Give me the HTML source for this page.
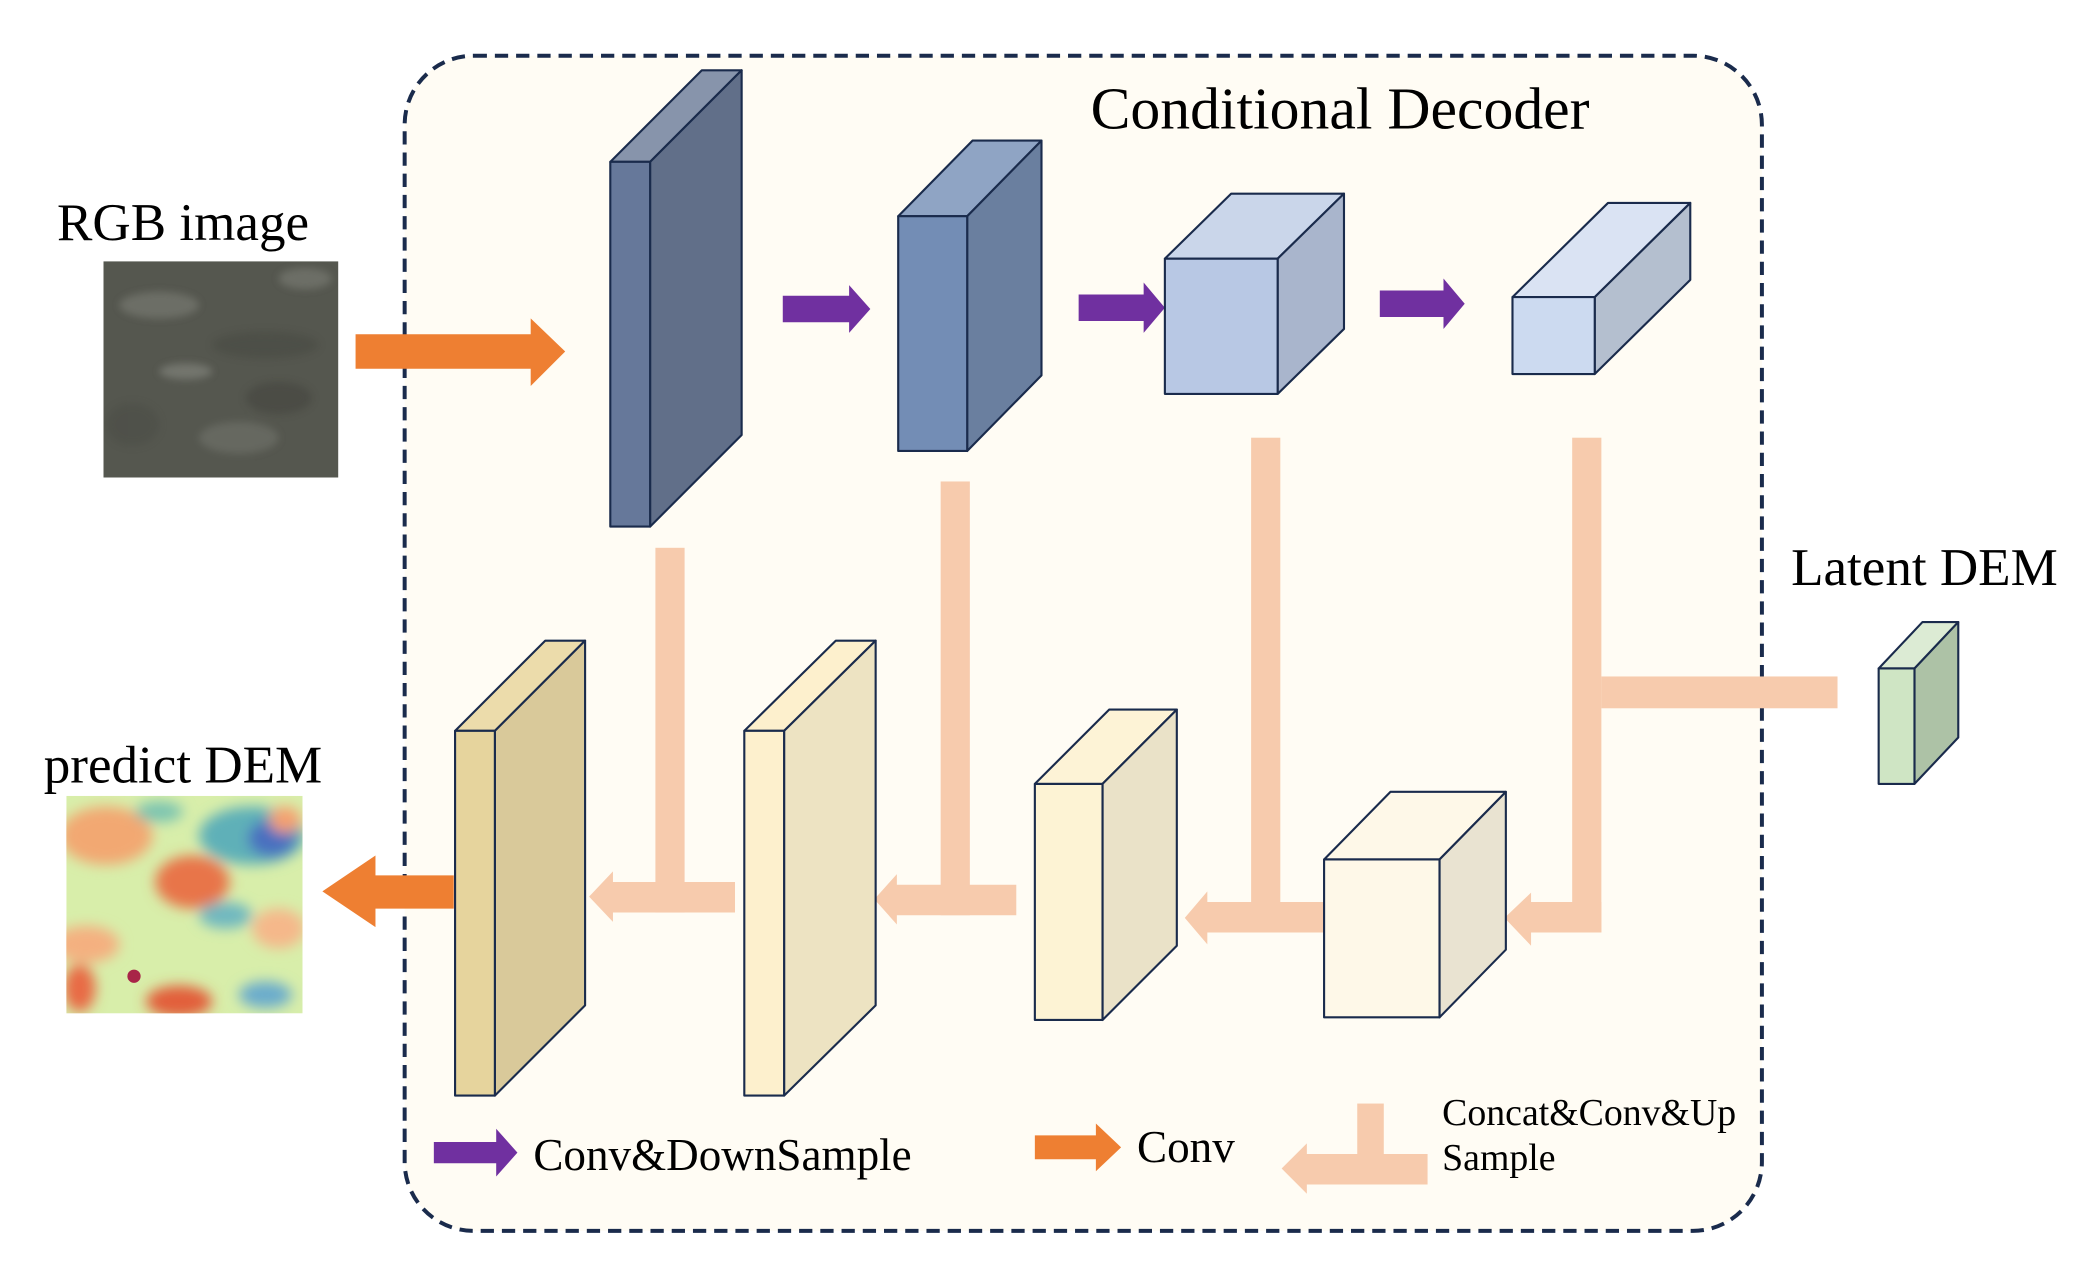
<!DOCTYPE html>
<html><head><meta charset="utf-8"><style>
html,body{margin:0;padding:0;background:#fff;width:2079px;height:1272px;overflow:hidden}
svg{display:block}
text{font-family:"Liberation Serif",serif;fill:#000}
</style></head><body>
<svg width="2079" height="1272" viewBox="0 0 1567 959" preserveAspectRatio="none" xmlns="http://www.w3.org/2000/svg">
<defs>
<filter id="bl" x="-20%" y="-20%" width="140%" height="140%"><feGaussianBlur stdDeviation="5"/></filter>
<filter id="bl2"><feGaussianBlur stdDeviation="3"/></filter>
<clipPath id="c1"><rect x="50" y="600" width="178" height="164"/></clipPath>
<clipPath id="c2"><rect x="78" y="197" width="177" height="163"/></clipPath>
</defs>
<rect width="1567" height="959" fill="#fff"/>
<rect x="305" y="42" width="1023" height="886" rx="52" fill="#fffcf4" stroke="#1a2b4c" stroke-width="3" stroke-dasharray="10,6"/>
<text x="822" y="97" font-size="45">Conditional Decoder</text>
<text x="43" y="181" font-size="40">RGB image</text>
<text x="1350" y="441" font-size="40">Latent DEM</text>
<text x="33" y="590" font-size="40">predict DEM</text>

<!-- RGB image -->
<g clip-path="url(#c2)">
<rect x="78" y="197" width="177" height="163" fill="#55574f"/>
<g filter="url(#bl2)" opacity="0.45">
<ellipse cx="120" cy="230" rx="30" ry="10" fill="#8a8c84"/>
<ellipse cx="200" cy="260" rx="40" ry="10" fill="#45473f"/>
<ellipse cx="140" cy="280" rx="20" ry="6" fill="#9a9c94"/>
<ellipse cx="180" cy="330" rx="30" ry="12" fill="#7c7e76"/>
<ellipse cx="100" cy="320" rx="20" ry="16" fill="#4a4c45"/>
<ellipse cx="230" cy="210" rx="20" ry="8" fill="#8a8c84"/>
<ellipse cx="210" cy="300" rx="25" ry="12" fill="#3f413b"/>
</g>
</g>

<!-- predict DEM -->
<g clip-path="url(#c1)">
<rect x="50" y="600" width="178" height="164" fill="#d8eeaa"/>
<g filter="url(#bl)">
<ellipse cx="80" cy="630" rx="35" ry="22" fill="#f2a872"/>
<ellipse cx="190" cy="630" rx="40" ry="22" fill="#5fb0b8"/>
<ellipse cx="205" cy="632" rx="18" ry="14" fill="#4a6fc0"/>
<ellipse cx="145" cy="665" rx="28" ry="20" fill="#e8744a"/>
<ellipse cx="120" cy="612" rx="18" ry="8" fill="#7bc4b0"/>
<ellipse cx="65" cy="712" rx="25" ry="14" fill="#f4b080"/>
<ellipse cx="135" cy="755" rx="25" ry="12" fill="#e25e3a"/>
<ellipse cx="210" cy="700" rx="20" ry="15" fill="#f5b88a"/>
<ellipse cx="170" cy="690" rx="20" ry="10" fill="#6fb8c0"/>
<ellipse cx="60" cy="745" rx="12" ry="18" fill="#e86a45"/>
<ellipse cx="200" cy="750" rx="20" ry="10" fill="#6aaccc"/>
<ellipse cx="215" cy="618" rx="12" ry="10" fill="#f4a070"/>
</g>
<circle cx="101" cy="736" r="5" fill="#a82548"/>
</g>

<!-- orange arrows -->
<polygon points="268,252 400,252 400,240 426,265 400,291 400,278 268,278" fill="#ee7f32"/>
<polygon points="342,660 283,660 283,645 243,672 283,699 283,685 342,685" fill="#ee7f32"/>

<!-- purple arrows -->
<polygon points="590,223 640,223 640,215 656,233 640,251 640,243 590,243" fill="#7030a0"/>
<polygon points="813,222 862,222 862,213 878,232 862,251 862,242 813,242" fill="#7030a0"/>
<polygon points="1040,219 1088,219 1088,210 1104,229 1088,248 1088,239 1040,239" fill="#7030a0"/>

<!-- peach connectors -->
<g fill="#f7cbad">
<rect x="1185" y="330" width="22" height="373"/>
<rect x="1207" y="510" width="178" height="24"/>
<polygon points="1207,680 1154,680 1154,673 1134,692 1154,713 1154,703 1207,703"/>
<rect x="943" y="330" width="22" height="373"/>
<polygon points="998,680 910,680 910,672 893,692 910,712 910,703 998,703"/>
<rect x="709" y="363" width="22" height="327"/>
<polygon points="766,667 676,667 676,659 659,678 676,697 676,690 766,690"/>
<rect x="494" y="413" width="22" height="275"/>
<polygon points="554,665 462,665 462,657 444,676 462,695 462,688 554,688"/>
<rect x="1023" y="832" width="20" height="53"/>
<polygon points="1076,870 985,870 985,862 966,881 985,900 985,893 1076,893"/>
</g>

<g stroke="#1a2b4c" stroke-width="1.6" stroke-linejoin="round">
<polygon points="460,122 529,53 559,53 490,122" fill="#8794ab"/>
<polygon points="490,122 559,53 559,328 490,397" fill="#616f89"/>
<rect x="460" y="122" width="30" height="275" fill="#66789a"/>

<polygon points="677,163 733,106 785,106 729,163" fill="#8fa4c4"/>
<polygon points="729,163 785,106 785,283 729,340" fill="#6a7f9f"/>
<rect x="677" y="163" width="52" height="177" fill="#738db5"/>

<polygon points="878,195 928,146 1013,146 963,195" fill="#cad6ea"/>
<polygon points="963,195 1013,146 1013,248 963,297" fill="#a9b5cc"/>
<rect x="878" y="195" width="85" height="102" fill="#b8c8e4"/>

<polygon points="1140,224 1212,153 1274,153 1202,224" fill="#dae3f3"/>
<polygon points="1202,224 1274,153 1274,211 1202,282" fill="#b4bfcf"/>
<rect x="1140" y="224" width="62" height="58" fill="#ccdaf0"/>

<polygon points="1416,504 1449,469 1476,469 1443,504" fill="#dcebd4"/>
<polygon points="1443,504 1476,469 1476,556 1443,591" fill="#adc2a6"/>
<rect x="1416" y="504" width="27" height="87" fill="#cfe5c4"/>

<polygon points="343,551 411,483 441,483 373,551" fill="#ecdcab"/>
<polygon points="373,551 441,483 441,758 373,826" fill="#d9c99a"/>
<rect x="343" y="551" width="30" height="275" fill="#e6d49d"/>

<polygon points="561,551 630,483 660,483 591,551" fill="#fdf0cd"/>
<polygon points="591,551 660,483 660,758 591,826" fill="#ede3c2"/>
<rect x="561" y="551" width="30" height="275" fill="#fdf0cd"/>

<polygon points="780,591 836,535 887,535 831,591" fill="#fdf3d6"/>
<polygon points="831,591 887,535 887,713 831,769" fill="#eae2c8"/>
<rect x="780" y="591" width="51" height="178" fill="#fdf3d4"/>

<polygon points="998,648 1048,597 1135,597 1085,648" fill="#fef8e8"/>
<polygon points="1085,648 1135,597 1135,716 1085,767" fill="#e9e3d1"/>
<rect x="998" y="648" width="87" height="119" fill="#fef8e8"/>
</g>

<polygon points="327,861 374,861 374,851 390,869 374,887 374,877 327,877" fill="#7030a0"/>
<text x="402" y="882" font-size="34">Conv&amp;DownSample</text>
<polygon points="780,856 826,856 826,847 845,865 826,883 826,874 780,874" fill="#ee7f32"/>
<text x="857" y="876" font-size="34">Conv</text>
<text x="1087" y="848" font-size="28.5">Concat&amp;Conv&amp;Up</text>
<text x="1087" y="882" font-size="28.5">Sample</text>
</svg>
</body></html>
